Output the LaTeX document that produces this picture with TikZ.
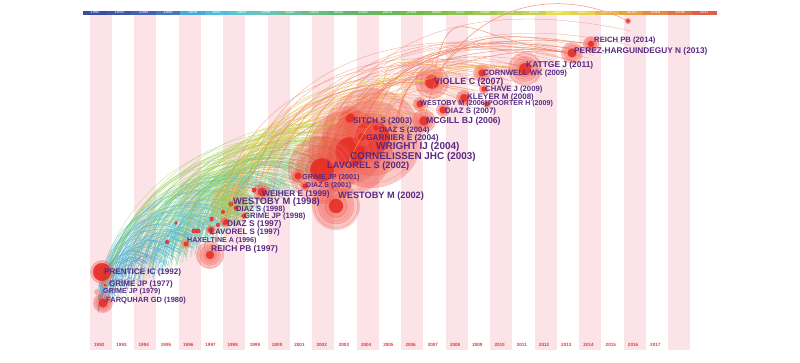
\documentclass[tikz,border=0pt]{standalone}
\usepackage{fontspec}
\setsansfont{Liberation Sans}
\usepackage{tikz}
\usetikzlibrary{arrows}
\definecolor{labc}{HTML}{5A2A82}
\definecolor{yrred}{HTML}{E23A44}
\definecolor{stripe}{HTML}{FCE3E7}
\definecolor{corered}{HTML}{E62A22}
\definecolor{hred}{HTML}{EE4B3E}
\definecolor{hgreen}{HTML}{A9CC4E}
\definecolor{hwhite}{HTML}{F4F4F4}
\definecolor{fl0}{HTML}{4F8FD0}
\definecolor{fl1}{HTML}{55B0E0}
\definecolor{fl2}{HTML}{58C4D8}
\definecolor{fl3}{HTML}{60C8B0}
\definecolor{fl4}{HTML}{78C878}
\definecolor{fl5}{HTML}{A8D060}
\definecolor{fl6}{HTML}{D8D450}
\definecolor{fl7}{HTML}{F0B050}
\definecolor{fl8}{HTML}{F08060}
\tikzstyle{flow}=[line width=0.3pt, draw opacity=0.75]
\tikzstyle{link}=[line width=0.5pt, draw opacity=0.85]
\tikzstyle{ring}=[draw=red!55, line width=0.35pt, draw opacity=0.6]
\tikzstyle{core}=[circle, inner sep=0pt, fill=corered, fill opacity=0.85]
\tikzstyle{lab}=[anchor=west, inner sep=0pt, text=labc]
\tikzstyle{yr}=[inner sep=0pt, text=yrred, font=\sffamily\bfseries\fontsize{4.6}{5}\selectfont]
\tikzstyle{barcell}=[minimum width=24.4pt, minimum height=4pt, inner sep=0pt, text=white, font=\sffamily\fontsize{4.2}{4}\selectfont]

\begin{document}
\begin{tikzpicture}[x=1pt,y=-1pt]
	\useasboundingbox (0,0) rectangle (800,362);
	% time slices
	\foreach \k in {0,...,13}
		\fill[stripe] ({90+44.48*\k},15) rectangle ({112+44.48*\k},350);
	% colour bar of the years
	\foreach \col [count=\n from 0] in {3A4DA0,3F55A8,4561B2,4877BE,48A8DC,52BCE0,5CC4CC,68C4B8,6CC0A0,68BC88,64B874,62B864,66BA58,70BC50,7CC04C,8CC44C,A0C850,B4CC58,C8D05C,E4E050,E8D050,E8B84C,E8A044,E48A48,E27248,DE5E46}{
		\definecolor{cell}{HTML}{\col}
		\pgfmathtruncatemacro\yr{1992+\n}
		\node[barcell, fill=cell] (bar\yr) at ({94.9+24.38*\n},12.5) {\yr};
	}
	\foreach \n in {0,...,25}{
		\pgfmathtruncatemacro\yr{1992+\n}
		\node[yr] (y\yr) at ({99.3+22.24*\n},345) {\yr};
	}
	% co-citation links
	\pgfmathsetseed{42}
	\foreach \i in {1,...,360}{
		\pgfmathsetmacro\ra{rnd+0.001}
		\pgfmathsetmacro\rb{rnd}
		\pgfmathsetmacro\rc{rnd}
		\pgfmathsetmacro\rd{rnd}
		\pgfmathsetmacro\xs{98+140*\ra^1.4}
		\pgfmathsetmacro\ys{295-0.62*(\xs-100)+(0.01581*(\xs-100))^2+30*(\rc-0.4)}
		\pgfmathsetmacro\xe{\xs+15+240*\rb*\rb}
		\pgfmathsetmacro\ye{295-0.62*(\xe-100)+(0.01581*(\xe-100))^2+24*(\rd-0.5)}
		\pgfmathsetmacro\dl{\xe-\xs}
		\pgfmathsetmacro\bg{min(0.4*\dl,32)}
		\pgfmathsetmacro\ax{\xs+0.1*\dl}
		\pgfmathsetmacro\ay{\ys-0.5*(\ys-\ye)-\bg}
		\pgfmathsetmacro\bx{\xs+0.45*\dl}
		\pgfmathsetmacro\by{\ye-\bg}
		\pgfmathtruncatemacro\ci{min(8,max(0,(\xe-110)/45))}
		\draw[flow, draw=fl\ci] (\xs,\ys) .. controls (\ax,\ay) and (\bx,\by) .. (\xe,\ye);
	}
	\foreach \i in {1,...,90}{
		\pgfmathsetmacro\ra{rnd}
		\pgfmathsetmacro\rb{rnd}
		\pgfmathsetmacro\rc{rnd}
		\pgfmathsetmacro\xs{180+220*\ra}
		\pgfmathsetmacro\ys{295-0.62*(\xs-100)+(0.01581*(\xs-100))^2+24*(\rc-0.5)}
		\pgfmathsetmacro\xe{min(630,\xs+30+330*\rb^2.5)}
		\pgfmathsetmacro\ye{295-0.62*(\xe-100)+(0.01581*(\xe-100))^2+20*(\rc-0.5)}
		\pgfmathsetmacro\dl{\xe-\xs}
		\pgfmathsetmacro\bg{min(0.4*\dl,35)}
		\pgfmathsetmacro\ax{\xs+0.05*\dl}
		\pgfmathsetmacro\ay{\ys-0.65*(\ys-\ye)-\bg}
		\pgfmathsetmacro\bx{\xs+0.45*\dl}
		\pgfmathsetmacro\by{\ye-\bg}
		\pgfmathtruncatemacro\ci{min(8,max(3,(\xe-110)/45))}
		\draw[flow, draw=fl\ci] (\xs,\ys) .. controls (\ax,\ay) and (\bx,\by) .. (\xe,\ye);
	}
	% cited references
	\foreach \nm/\x/\y/\rad/\h/\cr in {wright04/372/138/50/hred/0.35, corn03/350/152/42/hred/0.35, lav02/322/170/34/hred/0.35, wes02/336/206/24/hred/0.3,
		sitch03/350/118/12/hred/0.4, garn04/362/137/10/hred/0.4, diaz04/376/128/7/hred/0.4, grime01/298/176/7/hred/0.5, diaz01/305/186/5/hred/0.5,
		weiher99/262/192/9/hred/0.5, wes98/231/204/21/hgreen/0.12, diaz98/236/208/3/hred/0.7, grime98/244/216/3/hred/0.7, diaz97/225/222/5/hred/0.6,
		lav97/211/230/5/hred/0.6, hax96/186/244/5/hgreen/0.5, reich97/210/255/14/hred/0.3, prent92/102/272/12/hred/0.75, grime77/105/285/3/hgreen/0.5,
		grime79/97/292/3/hwhite/0.2, farq80/103/303/10/hred/0.45, violle07/432/82/17/hred/0.4, mcgill06/424/121/12/hred/0.4, wes06/420/104/7/hred/0.5,
		diaz07/443/110/7/hred/0.5, kley08/464/98/8/hred/0.5, poort09/487/104/4/hred/0.6, chave09/484/89/5/hred/0.5, cornw09/482/73/9/hred/0.4,
		kattge11/525/69/17/hred/0.35, perez13/572/53/11/hred/0.4, reich14/591/44/8/hred/0.4, dot16/628/21/3/hred/0.6}{
		\fill[\h, opacity=0.3] (\x,\y) circle ({\rad*1pt});
		\fill[\h, opacity=0.25] (\x,\y) circle ({0.75*\rad*1pt});
		\fill[\h, opacity=0.25] (\x,\y) circle ({0.5*\rad*1pt});
		\foreach \f in {0.9,0.75,0.6,0.45}
			\draw[ring] (\x,\y) circle ({\f*\rad*1pt});
		\pgfmathsetmacro\cs{2*\cr*\rad}
		\node[core, minimum size=\cs pt] (\nm) at (\x,\y) {};
	}
	\foreach \nm/\x/\y/\rad in {d1/212/219/2.5, d2/218/225/2.2, d3/194/231/2.5, d4/198/231/2.5, d5/167/242/2.2, d6/223/212/2, d7/176/223/1.8, d8/254/190/2.5}{
		\pgfmathsetmacro\cs{2*\rad}
		\node[core, minimum size=\cs pt] (\nm) at (\x,\y) {};
	}
	% long links to recent references
	\foreach \a/\b/\col in {wes98/violle07/fl6, wes98/kattge11/fl7, reich97/kattge11/fl7, lav02/perez13/fl8,
		corn03/reich14/fl8, wright04/perez13/fl8, mcgill06/reich14/fl8, wright04/cornw09/fl7,
		wes02/kattge11/fl7, lav97/violle07/fl6, violle07/perez13/fl8, weiher99/kattge11/fl7, diaz97/perez13/fl8}
		\draw[link, draw=\col] (\a) .. controls +(20,-90) and +(-110,-15) .. (\b);
	\draw[link, draw=fl8] (violle07) .. controls +(60,-95) and +(-50,-25) .. (dot16);
	% labels
	\foreach \nm/\x/\y/\s/\txt in {reich14/594/41/7.7/REICH PB (2014), perez13/574/51/8.3/PEREZ-HARGUINDEGUY N (2013),
		kattge11/526/65/8.4/KATTGE J (2011), cornw09/483/74/7.7/CORNWELL WK (2009), violle07/434/82/8.9/VIOLLE C (2007),
		chave09/485/89.5/7.7/CHAVE J (2009), kley08/467/97.5/8/KLEYER M (2008), wes06/420/104/7.2/WESTOBY M (2006),
		poort09/488/104/7.1/POORTER H (2009), diaz07/445/111.5/7.9/DIAZ S (2007), mcgill06/426/121.5/8.7/MCGILL BJ (2006),
		sitch03/353/121.5/8.3/SITCH S (2003), diaz04/379/130/7.8/DIAZ S (2004), garn04/366/138/8.3/GARNIER E (2004),
		wright04/376/146.5/10/WRIGHT IJ (2004), corn03/350/157/9.9/CORNELISSEN JHC (2003), lav02/327/166/9.3/LAVOREL S (2002),
		grime01/302/177.5/7.2/GRIME JP (2001), diaz01/306/186/7/DIAZ S (2001), wes02/338/196/9.2/WESTOBY M (2002),
		weiher99/262/194/8.3/WEIHER E (1999), wes98/233/202/9.3/WESTOBY M (1998), diaz98/236/209.5/7.6/DIAZ S (1998),
		grime98/244/217/7.7/GRIME JP (1998), diaz97/227/224.5/8.4/DIAZ S (1997), lav97/210/232.5/7.9/LAVOREL S (1997),
		hax96/187/241/7.1/HAXELTINE A (1996), reich97/211/249.5/8.4/REICH PB (1997), prent92/104/272/8.1/PRENTICE IC (1992),
		grime77/109/284/8/GRIME JP (1977), grime79/103/292/7.2/GRIME JP (1979), farq80/106/300.5/7.5/FARQUHAR GD (1980)}
		\node[lab, font=\sffamily\bfseries\fontsize{\s}{\s}\selectfont] (l\nm) at (\x,\y) {\txt};
\end{tikzpicture}
\end{document}
